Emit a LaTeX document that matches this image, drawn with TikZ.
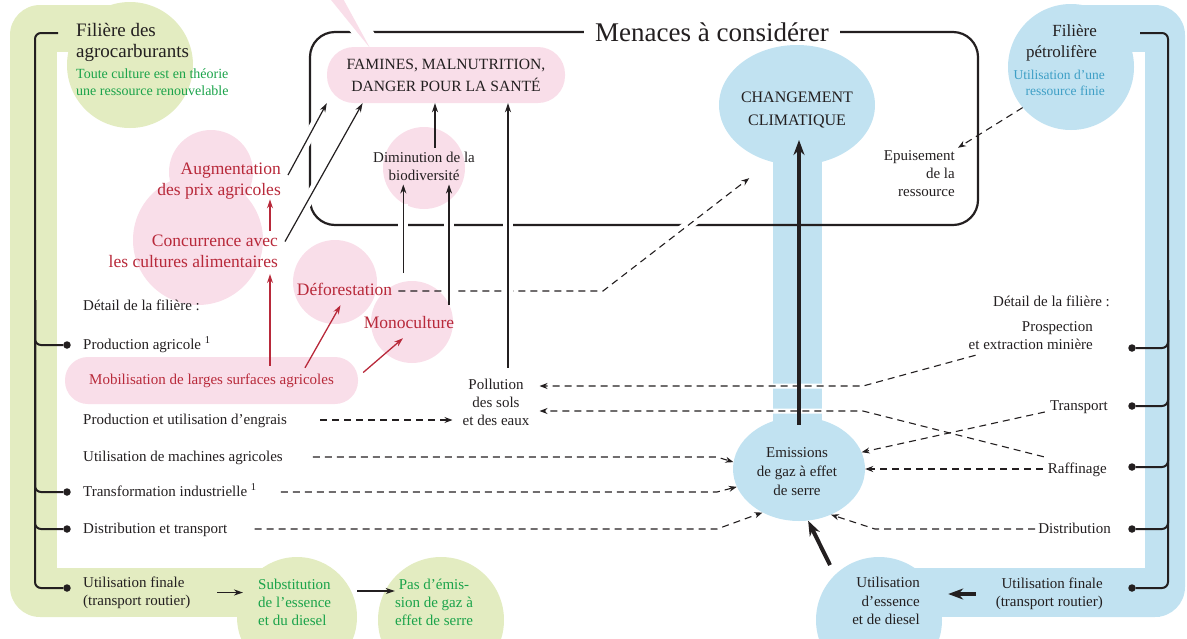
\documentclass[tikz,border=0pt]{standalone}
\usepackage{fontspec}
\setmainfont{Liberation Serif}
\usepackage{xcolor}
\usetikzlibrary{arrows.meta, shapes.geometric, calc}

\definecolor{agrovert}{HTML}{E3ECC1}
\definecolor{agrotexte}{HTML}{1AA34A}
\definecolor{rose}{HTML}{F9DEE9}
\definecolor{rouge}{HTML}{B8293A}
\definecolor{bleu}{HTML}{C1E2F1}
\definecolor{bleutexte}{HTML}{3E9FC6}
\definecolor{encre}{HTML}{231F20}

\begin{document}
\begin{tikzpicture}[x=1pt, y=-1pt, >={Stealth[length=9pt, width=6pt]},
	txt/.style={font=\fontsize{15}{18}\selectfont, text=encre, inner sep=0pt},
	ligne/.style={txt, text height=11pt, text depth=3pt},
	menace/.style={font=\fontsize{17.5}{21}\selectfont, text=rouge, inner sep=0pt},
	filiere/.style={font=\fontsize{19}{21}\selectfont, text=encre, inner sep=0pt},
	note/.style={font=\fontsize{14}{17}\selectfont, inner sep=0pt},
	bulle/.style={circle, fill=#1, inner sep=0pt},
	puce/.style={circle, fill=encre, inner sep=0pt, minimum size=7.5pt},
	accolade/.style={line width=2pt, draw=encre, rounded corners=6pt},
	fleche/.style={->, line width=1.2pt, draw=encre},
	flecherouge/.style={->, line width=1.3pt, draw=rouge},
	tirets/.style={->, line width=1.1pt, draw=encre, dash pattern=on 7pt off 5pt, >={Stealth[length=8pt, width=6pt]}},
	epaisse/.style={->, line width=4pt, draw=encre, >={Stealth[length=15pt, width=11pt]}},
	halo/.style n args={3}{preaction={draw=white, solid, -, line width=#1, shorten <=#2, shorten >=#3}}]
	\useasboundingbox (0,0) rectangle (1187,638);

	% bandes des deux filieres
	\fill[agrovert, rounded corners=30pt] (10,5) rectangle (140,617);
	\fill[white] (57,52) rectangle (150,568);
	\fill[agrovert] (40,568) rectangle (300,617);
	\fill[bleu, rounded corners=30pt] (1050,5) rectangle (1185,617);
	\fill[white] (1040,52) rectangle (1145,568);
	\fill[bleu] (870,568) rectangle (1160,617);

	\node[bulle=agrovert, minimum size=126pt] (agro) at (130,65) {};
	\node[bulle=agrovert, minimum size=120pt] (subst) at (297,617) {};
	\node[bulle=agrovert, minimum size=126pt] (pasem) at (441,620) {};
	\node[bulle=bleu, minimum size=126pt] (petro) at (1071,67) {};
	\node[bulle=bleu, minimum size=126pt] (essence) at (879,620) {};
	\fill[bleu] (773,150) rectangle (822,430);
	\node[ellipse, fill=bleu, minimum width=156pt, minimum height=120pt] (climat) at (797,105) {};
	\node[ellipse, fill=bleu, minimum width=132pt, minimum height=104pt] (emis) at (799,469) {};

	% cadre des menaces
	\draw[line width=2.2pt, encre, rounded corners=25pt] (310,32) rectangle (978,225);
	\node[font=\fontsize{27}{30}\selectfont, text=encre, fill=white, inner xsep=11pt, inner ysep=2pt] (menaces) at (712,32) {Menaces à considérer};
	\fill[white] (318,-5) -- (353,-5) -- (381,45) -- (362,45) -- cycle;
	\fill[rose] (327,-5) -- (341,-5) -- (370,48) -- cycle;

	% bulles roses
	\node[bulle=rose, minimum size=84pt] (augm) at (211,172) {};
	\node[bulle=rose, minimum size=130pt] (concur) at (198,240) {};
	\node[bulle=rose, minimum size=84pt] (defo) at (335,282) {};
	\node[bulle=rose, minimum size=82pt] (mono) at (412,322) {};
	\node[bulle=rose, minimum size=82pt] (dimin) at (424,168) {};
	\node[fill=rose, rounded corners=23pt, minimum width=293pt, minimum height=47pt, inner sep=0pt,
		font=\fontsize{15}{18}\selectfont, text=rouge] (mobil) at (211.5,380.5) {Mobilisation de larges surfaces agricoles};
	\node[fill=rose, rounded corners=27pt, minimum width=238pt, minimum height=56pt, inner sep=0pt,
		font=\fontsize{15.6}{22}\selectfont, text=encre, align=center] (famines) at (446,75) {FAMINES, MALNUTRITION,\\DANGER POUR LA SANTÉ};

	% textes
	\node[menace, align=right, anchor=east] (augm-t) at (281,181) {Augmentation\\des prix agricoles};
	\node[menace, align=right, anchor=east] (concur-t) at (278,251.5) {Concurrence avec\\les cultures alimentaires};
	\node[menace, text height=12pt, text depth=4pt] (defo-t) at (344.5,291) {Déforestation};
	\node[menace, text height=12pt, text depth=4pt] (mono-t) at (409,324) {Monoculture};
	\node[txt, align=center, inner sep=4pt] (dimin-t) at (424,166) {Diminution de la\\biodiversité};
	\node[txt, align=center, inner xsep=10pt, inner ysep=2pt] (pollu) at (496,402) {Pollution\\des sols\\et des eaux};
	\node[font=\fontsize{16}{23}\selectfont, text=encre, align=center, inner sep=0pt] (climat-t) at (797,110) {CHANGEMENT\\CLIMATIQUE};
	\node[txt, align=center, font=\fontsize{15}{19}\selectfont] (emis-t) at (797,472) {Emissions\\de gaz à effet\\de serre};
	\node[txt, align=right, anchor=east, font=\fontsize{15}{18.5}\selectfont] (essence-t) at (920,601) {Utilisation\\d’essence\\et de diesel};
	\node[txt, align=right, anchor=east, inner sep=3pt] (epuis) at (958,174) {Epuisement\\de la\\ressource};
	\node[filiere, align=left, anchor=west] (agro-t) at (76,42.5) {Filière des\\agrocarburants};
	\node[note, text=agrotexte, align=left, anchor=west] (agro-s) at (76,82.5) {Toute culture est en théorie\\une ressource renouvelable};
	\node[filiere, font=\fontsize{17}{21}\selectfont, align=right, anchor=east] (petro-t) at (1097,42.5) {Filière\\pétrolifère};
	\node[note, font=\fontsize{13.5}{16}\selectfont, text=bleutexte, align=right, anchor=east] (petro-s) at (1105,82.5) {Utilisation d’une\\ressource finie};
	\node[txt, text=agrotexte, align=left, anchor=west] (subst-t) at (258,602) {Substitution\\de l’essence\\et du diesel};
	\node[txt, text=agrotexte, align=center] (pasem-t) at (434,602) {Pas d’émis-\\sion de gaz à\\effet de serre};

	% detail de la filiere agro
	\node[ligne, anchor=west] (detail-g) at (83,306) {Détail de la filière :};
	\node[ligne, anchor=west] (prod) at (83,345) {Production agricole \textsuperscript{1}};
	\node[ligne, anchor=west] (engr) at (83,420) {Production et utilisation d’engrais};
	\node[ligne, anchor=west] (mach) at (83,457) {Utilisation de machines agricoles};
	\node[ligne, anchor=west] (transf) at (83,492) {Transformation industrielle \textsuperscript{1}};
	\node[ligne, anchor=west] (distr-g) at (83,529) {Distribution et transport};
	\node[txt, align=left, anchor=west] (final-g) at (83,592.5) {Utilisation finale\\(transport routier)};

	% detail de la filiere petrole
	\node[ligne, anchor=east] (detail-d) at (1110,302) {Détail de la filière :};
	\node[txt, align=right, anchor=east] (prosp) at (1093,336) {Prospection\\et extraction minière};
	\node[ligne, anchor=east] (transp) at (1108,406) {Transport};
	\node[ligne, anchor=east] (raff) at (1107,469) {Raffinage};
	\node[ligne, anchor=east] (distr-d) at (1111,529) {Distribution};
	\node[txt, align=right, anchor=east] (final-d) at (1103,594) {Utilisation finale\\(transport routier)};

	% accolades
	\foreach \nom/\y in {prod/345, transf/492, distr/529, final/588}
		\node[puce] (p-\nom) at (67,\y) {};
	\foreach \nom/\y in {prosp/348, transp/406, raff/467, distr/529, final/588}
		\node[puce] (q-\nom) at (1132,\y) {};
	\coordinate (agro-haut) at (58,33);
	\coordinate (petro-haut) at (1140,33);
	\draw[accolade] (agro-haut) -| (35,588) -- (p-final);
	\foreach \nom in {prod, transf, distr}
		\draw[accolade] (35,300) |- (p-\nom);
	\draw[accolade] (petro-haut) -| (1168,588) -- (q-final);
	\foreach \nom in {prosp, transp, raff, distr}
		\draw[accolade] (1168,300) |- (q-\nom);

	% coudes des tirets
	\coordinate (coude-k) at (603,0);
	\coordinate (coude-g) at (717,0);
	\coordinate (coude-l) at (863,386);
	\coordinate (coude-m) at (863,411);
	\coordinate (coude-s) at (875,0);

	% deforestation vers le climat
	\begin{scope}
		\clip (650,200) rectangle (730,250);
		\draw[white, line width=10pt] (coude-k |- defo-t) -- (climat.245);
	\end{scope}
	\draw[tirets, shorten >=27pt] ($(defo-t.east)+(6pt,0)$) -- (coude-k |- defo-t) -- (climat.245);

	% emissions de la filiere agro
	\draw[tirets] ($(engr.east)+(33pt,0)$) -- (engr -| pollu.west);
	\draw[tirets] ($(mach.east)+(30pt,0)$) -- (coude-g |- mach) -- (emis.174);
	\draw[tirets] ($(transf.east)+(24pt,0)$) -- (coude-g |- transf) -- (emis.196);
	\draw[tirets] ($(distr-g.east)+(27pt,0)$) -- (coude-g |- distr-g) -- (emis.230);

	% emissions de la filiere petrole
	\draw[tirets, halo={5pt}{0pt}{12pt}] ($(prosp.south west)+(7pt,-5pt)$) -- (coude-l) -- (coude-l -| pollu.east);
	\draw[tirets, halo={5pt}{0pt}{12pt}] ($(raff.north west)+(-4pt,5pt)$) -- (coude-m) -- (coude-m -| pollu.east);
	\draw[tirets] ($(transp.west)+(-5pt,-6pt)$) -- (emis.15);
	\draw[tirets] ($(raff.west)+(-5pt,0)$) -- (emis.east);
	\draw[tirets] ($(distr-d.west)+(-3pt,0)$) -- (coude-s |- distr-d) -- (emis.305);
	\draw[tirets] (petro.220) -- (epuis.north east);

	% vers les famines et la biodiversite
	\draw[fleche, halo={10pt}{30pt}{20pt}] ($(augm-t.east)+(7pt,6pt)$) -- (famines.south west);
	\draw[fleche, halo={10pt}{30pt}{60pt}] ($(concur-t.east)+(7pt,10pt)$) -- ($(famines.south west)!0.15!(famines.south east)$);
	\draw[fleche] ($(dimin-t.north)+(11pt,0)$) coordinate (d1) -- (d1 |- famines.south);
	\draw[fleche, halo={10pt}{40pt}{60pt}] ($(pollu.north)+(12pt,9pt)$) coordinate (d2) -- (d2 |- famines.south);
	\draw[fleche, halo={10pt}{20pt}{20pt}] ($(defo-t.east)+(11pt,18pt)$) coordinate (d3) -- (d3 |- dimin-t.south);
	\draw[fleche, halo={10pt}{10pt}{20pt}] ($(mono.center)+(37pt,17pt)$) coordinate (d4) -- (d4 |- dimin-t.south);

	% fleches rouges
	\draw[flecherouge] ($(concur-t.north east)+(-8pt,4pt)$) coordinate (r1) -- (r1 |- augm-t.south);
	\draw[flecherouge] ($(mobil.north)+(58.5pt,-9pt)$) coordinate (r2) -- ($(r2 |- concur-t.south)+(0,-6pt)$);
	\draw[flecherouge] ($(mobil.north)+(93.5pt,-11pt)$) -- ($(defo-t.south)+(-4pt,-6pt)$);
	\draw[flecherouge] ($(mobil.east)+(5pt,8pt)$) -- ($(mono-t.south)+(-6pt,-6pt)$);

	% utilisation finale
	\draw[fleche] ($(final-g.east)+(27pt,0)$) -- ($(subst-t.west |- final-g.east)+(-15pt,0)$);
	\draw[fleche] ($(subst-t.east)+(26pt,11pt)$) coordinate (u1) -- (u1 -| pasem-t.west);

	% fleches epaisses
	\draw[epaisse] ($(emis.north)+(0,-8pt)$) coordinate (e1) -- ($(e1 |- climat.center)+(0,-35pt)$);
	\draw[epaisse] ($(essence.center)+(-49pt,55pt)$) -- (emis.280);
	\draw[epaisse] ($(final-d.west)+(-20pt,0)$) -- ($(essence.east |- final-d.west)+(6pt,0)$);
\end{tikzpicture}
\end{document}
